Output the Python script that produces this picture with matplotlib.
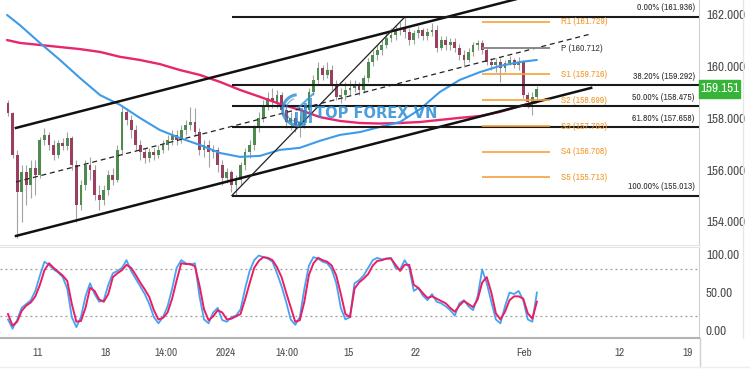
import matplotlib
matplotlib.use('Agg')
import matplotlib.pyplot as plt
import matplotlib.transforms as mtrans
from matplotlib import font_manager as fm
from matplotlib.patches import Rectangle, Arc
from matplotlib.lines import Line2D
import numpy as np

# pick a condensed face if one is installed
COND = None
for f in fm.fontManager.ttflist:
    if ('Narrow' in f.name or 'Condensed' in f.name) and f.weight in (400, 'normal', 'regular'):
        COND = f.name
        break
if COND is None:
    for f in fm.fontManager.ttflist:
        if f.name == 'DejaVu Sans' and str(f.stretch) in ('condensed', '500', 'semi-condensed') and f.style == 'normal':
            COND = 'DejaVu Sans'
            break
STRETCH = 'condensed'
BASE = COND if COND else 'Liberation Sans'
plt.rcParams['font.family'] = [BASE, 'DejaVu Sans']
plt.rcParams['font.stretch'] = STRETCH
SC = 1.0 if COND else 0.86  # shrink text if no condensed face available

# ---------------- data ----------------
opens = [158.60, 158.21, 156.58, 155.15, 155.93, 155.42, 156.08, 155.81, 157.16, 157.36,
         156.97, 156.58, 157.05, 156.93, 157.24, 156.20, 154.65, 155.42, 156.20, 156.00,
         155.04, 154.84, 155.23, 155.81, 155.62, 156.78, 158.25, 157.94, 157.55, 156.97,
         156.70, 156.47, 156.70, 156.58, 156.78, 156.97, 157.16, 157.36, 157.16, 157.55,
         157.74, 157.86, 157.47, 156.78, 156.97, 156.70, 156.78, 156.20, 155.69, 155.93,
         155.42, 155.62, 156.20, 156.70, 156.97, 157.63, 158.02, 158.52, 158.79, 158.63,
         158.90, 158.33, 157.86, 158.02, 157.74, 157.86, 158.33, 159.02, 159.49, 159.95,
         159.68, 159.87, 159.29, 158.83, 158.90, 159.10, 159.18, 159.29, 159.10, 159.56,
         160.18, 160.45, 160.65, 160.84, 161.11, 161.23, 161.42, 161.50, 161.34, 161.03,
         161.30, 161.42, 161.19, 161.34, 161.42, 160.72, 161.03, 160.84, 160.96, 160.72,
         160.45, 160.26, 160.57, 160.84, 160.92, 160.65, 160.18, 160.07, 160.18, 159.95,
         160.14, 160.26, 160.07, 160.18, 158.90, 158.63, 158.83]
closes = [158.21, 156.58, 155.15, 155.93, 155.42, 156.08, 155.81, 157.16, 157.36, 156.97,
          156.58, 157.05, 156.93, 157.24, 156.20, 154.65, 155.42, 156.20, 156.00, 155.04,
          154.84, 155.23, 155.81, 155.62, 156.78, 158.25, 157.94, 157.55, 156.97, 156.70,
          156.47, 156.70, 156.58, 156.78, 156.97, 157.16, 157.36, 157.16, 157.55, 157.74,
          157.86, 157.47, 156.78, 156.97, 156.70, 156.78, 156.20, 155.69, 155.93, 155.42,
          155.62, 156.20, 156.70, 156.97, 157.63, 158.02, 158.52, 158.79, 158.63, 158.90,
          158.33, 157.86, 158.02, 157.74, 157.86, 158.33, 159.02, 159.49, 159.95, 159.68,
          159.87, 159.29, 158.83, 158.90, 159.10, 159.18, 159.29, 159.10, 159.56, 160.18,
          160.45, 160.65, 160.84, 161.11, 161.23, 161.42, 161.50, 161.34, 161.03, 161.30,
          161.42, 161.19, 161.34, 161.42, 160.72, 161.03, 160.84, 160.96, 160.72, 160.45,
          160.26, 160.57, 160.84, 160.92, 160.65, 160.18, 160.07, 160.18, 159.95, 160.14,
          160.26, 160.07, 160.18, 158.90, 158.63, 158.83, 159.151]
highs = [158.71, 158.25, 156.78, 156.20, 156.20, 156.39, 156.39, 157.28, 157.63, 157.47,
         157.16, 157.16, 157.24, 157.47, 157.32, 156.39, 155.62, 156.39, 156.51, 156.20,
         155.42, 155.42, 156.00, 156.08, 156.97, 158.52, 158.40, 158.13, 157.74, 157.16,
         156.85, 156.85, 156.85, 156.97, 157.16, 157.36, 157.55, 157.55, 157.74, 157.94,
         158.44, 158.40, 157.63, 157.16, 157.16, 156.97, 156.89, 156.39, 156.08, 156.00,
         155.81, 156.31, 156.85, 157.16, 157.74, 158.25, 158.71, 159.02, 159.18, 159.10,
         159.02, 158.52, 158.25, 158.25, 158.13, 158.52, 159.18, 159.68, 160.18, 160.07,
         160.18, 160.07, 159.49, 159.18, 159.41, 159.49, 159.49, 159.41, 159.68, 160.34,
         160.65, 160.84, 161.03, 161.30, 161.50, 161.61, 161.73, 161.936, 161.50, 161.42,
         161.57, 161.50, 161.50, 161.69, 161.61, 161.19, 161.19, 161.11, 161.11, 160.88,
         160.65, 160.72, 160.96, 161.03, 161.03, 160.76, 160.34, 160.34, 160.34, 160.26,
         160.41, 160.34, 160.38, 160.26, 159.02, 159.02, 159.25]
lows = [158.09, 156.47, 153.37, 153.99, 154.65, 154.92, 155.04, 155.69, 156.97, 156.78,
        156.39, 156.47, 156.78, 156.78, 156.00, 153.99, 154.46, 155.23, 155.62, 154.84,
        154.46, 154.65, 155.04, 155.42, 155.54, 156.58, 157.74, 157.24, 156.78, 156.39,
        156.27, 156.31, 156.39, 156.47, 156.66, 156.78, 156.97, 156.97, 157.05, 157.36,
        157.55, 157.32, 156.58, 156.51, 156.12, 156.47, 155.93, 155.42, 155.50, 155.15,
        155.013, 155.42, 156.00, 156.47, 156.78, 157.47, 157.86, 158.33, 158.40, 158.40,
        158.13, 157.63, 157.55, 157.47, 157.28, 157.63, 158.13, 158.90, 159.29, 159.49,
        159.56, 159.10, 158.71, 158.60, 158.71, 158.90, 159.02, 158.90, 158.98, 159.41,
        160.03, 160.26, 160.45, 160.72, 160.96, 161.03, 161.23, 161.11, 160.84, 160.88,
        161.11, 161.03, 161.03, 161.19, 160.57, 160.65, 160.65, 160.65, 160.57, 160.26,
        159.99, 160.18, 160.41, 160.65, 160.49, 160.07, 159.87, 159.79, 159.41, 159.79,
        160.07, 159.95, 159.87, 158.79, 158.40, 158.13, 158.71]

# moving averages (sampled along the bar axis)
ma_x = [-0.2, 2.6, 7.0, 11.4, 15.8, 20.2, 24.6, 28.9, 33.3, 37.7, 42.1, 46.5, 50.9, 55.3,
        59.6, 64.0, 68.4, 72.8, 77.2, 81.6, 86.0, 90.4, 94.7, 99.1, 103.5, 107.9, 112.3, 116.0]
ma_fast = [162.00, 161.61, 160.92, 160.26, 159.56, 158.90, 158.52, 158.02, 157.55, 157.24,
           156.97, 156.66, 156.51, 156.55, 156.78, 156.86, 157.13, 157.36, 157.47, 157.67,
           157.86, 158.36, 159.02, 159.49, 159.79, 160.03, 160.18, 160.26]
ma_slow = [161.03, 160.92, 160.84, 160.76, 160.68, 160.57, 160.38, 160.26, 160.10, 159.87,
           159.68, 159.41, 159.10, 158.83, 158.56, 158.33, 158.05, 157.90, 157.82, 157.80,
           157.82, 157.86, 157.94, 158.02, 158.09, 158.25, 158.48, 158.63]

# stochastic oscillator
stoch_k = [15, 3, 14, 30, 35, 40, 52, 72, 90, 86,
           80, 76, 70, 55, 18, 5, 18, 45, 62, 48,
           38, 40, 60, 75, 78, 82, 92, 78, 68, 58,
           48, 35, 18, 10, 18, 32, 55, 82, 92, 88,
           86, 88, 45, 15, 10, 24, 30, 14, 12, 18,
           20, 28, 55, 78, 92, 98, 96, 94, 90, 75,
           58, 38, 15, 8, 18, 55, 85, 96, 94, 90,
           88, 80, 62, 30, 15, 18, 62, 66, 72, 82,
           92, 95, 93, 94, 95, 82, 80, 92, 82, 52,
           56, 46, 40, 48, 38, 36, 32, 27, 20, 36,
           40, 32, 27, 45, 80, 62, 38, 15, 10, 32,
           50, 48, 52, 40, 15, 12, 50]
stoch_d = [22, 7, 12, 26, 33, 37, 45, 60, 79, 88,
           82, 77, 72, 65, 35, 12, 13, 30, 56, 52,
           41, 38, 48, 70, 75, 79, 86, 82, 73, 63,
           54, 44, 27, 15, 17, 24, 42, 66, 88, 87,
           87, 84, 59, 28, 14, 19, 27, 24, 15, 16,
           19, 22, 41, 62, 82, 91, 96, 95, 92, 83,
           70, 50, 31, 12, 14, 38, 73, 88, 95, 92,
           90, 85, 72, 48, 22, 18, 55, 63, 68, 74,
           85, 91, 92, 94, 94, 86, 78, 86, 86, 60,
           56, 49, 43, 45, 42, 39, 36, 30, 25, 33,
           39, 35, 31, 41, 63, 70, 50, 23, 15, 25,
           40, 45, 45, 42, 23, 16, 38]

# channel (two anchor points each)
chan_x = [1.75, 127.9]
chan_upper = [157.63, 163.36]
chan_mid = [155.54, 161.27]
chan_lower = [153.45, 159.18]

# Fibonacci retracement
fib_anchor_x = [49.1, 87.1]
fib_pct = [0.0, 38.2, 50.0, 61.8, 100.0]
fib_lvl = [161.936, 159.292, 158.475, 157.658, 155.013]

# pivot points
piv_names = ['R1', 'P', 'S1', 'S2', 'S3', 'S4', 'S5']
piv_vals = [161.729, 160.712, 159.716, 158.699, 157.703, 156.708, 155.713]
piv_span = [103.9, 118.9]
piv_label_x = 121.3

price_ticks = [154, 156, 158, 160, 162]
osc_ticks = [0, 50, 100]
time_pos = [6.4, 21.3, 34.6, 47.8, 61.2, 74.6, 89.3, 113.2, 134.2, 149.1]
time_labels = ['11', '18', '14:00', '2024', '14:00', '15', '22', 'Feb', '12', '19']

# ---------------- figure ----------------
W, H = 750, 375
fig = plt.figure(figsize=(7.5, 3.75), dpi=100)
fig.patch.set_facecolor('white')
ax = fig.add_axes([0, 1 - 245 / H, 699 / W, 245 / H])
osc = fig.add_axes([0, 1 - 338 / H, 699 / W, 91 / H], sharex=ax)

XL = (-1.75, 151.55)
ax.set_xlim(*XL)
ax.set_ylim(153.10, 162.58)

UP = '#4d8b4f'
DN = '#9a3f5f'
WICK = '#a3a3a3'

o = np.array(opens); c = np.array(closes); h = np.array(highs); l = np.array(lows)
x = np.arange(len(c))
up = c >= o
ax.vlines(x, l, h, color=WICK, lw=0.8, zorder=2)
blo = np.minimum(o, c)
bh = np.maximum(np.abs(c - o), 0.03)
ax.bar(x[up], bh[up], bottom=blo[up], width=0.62, color=UP, linewidth=0, zorder=3)
ax.bar(x[~up], bh[~up], bottom=blo[~up], width=0.62, color=DN, linewidth=0, zorder=3)

ax.plot(ma_x, ma_slow, color='#e8266d', lw=1.7, zorder=4, solid_capstyle='round')
ax.plot(ma_x, ma_fast, color='#3d9be9', lw=1.5, zorder=4, solid_capstyle='round')

# channel
ax.plot(chan_x, chan_upper, color='#111111', lw=1.8, zorder=5)
ax.plot(chan_x, chan_lower, color='#111111', lw=1.8, zorder=5)
ax.plot(chan_x, chan_mid, color='#222222', lw=0.9, ls=(0, (4, 3)), zorder=5)

# fib
ax.plot(fib_anchor_x, [fib_lvl[-1], fib_lvl[0]], color='#222222', lw=0.9, zorder=5)
ax.hlines(fib_lvl, fib_anchor_x[0], XL[1], color='#1a1a1a', lw=1.5, zorder=5)
for p, v in zip(fib_pct, fib_lvl):
    ax.text(150.6, v + 0.34, f'{p:.2f}% ({v:.3f})', ha='right', va='center',
            fontsize=6.8 * SC, color='#333333', zorder=6)

# pivots
for nm, v in zip(piv_names, piv_vals):
    col = '#8a8a8a' if nm == 'P' else '#f6a23c'
    tcol = '#444444' if nm == 'P' else '#f29a2e'
    ax.hlines(v, piv_span[0], piv_span[1], color=col, lw=1.4 if nm == 'P' else 1.2, zorder=5)
    ax.text(piv_label_x, v, f'{nm} ({v:.3f})', ha='left', va='center',
            fontsize=7 * SC, color=tcol, zorder=6)

# watermark
ax.text(376 / 699, 1 - 113 / 245, 'TOP FOREX VN', transform=ax.transAxes,
        ha='center', va='center', fontsize=10.5, fontweight='bold', fontstretch='normal',
        family='DejaVu Sans', color='#2c8ed6', alpha=0.85, zorder=7)
logo = fig.add_axes([281 / W, 1 - 127 / H, 34 / W, 34 / H])
logo.set_xlim(0, 1); logo.set_ylim(0, 1); logo.axis('off')
logo.add_patch(Arc((0.5, 0.5), 0.9, 0.9, theta1=95, theta2=300, lw=2.2, color='#2c8ed6', alpha=0.8))
logo.add_patch(Arc((0.5, 0.5), 0.7, 0.7, theta1=110, theta2=280, lw=1.0, color='#2c8ed6', alpha=0.6))
for bx, bt in zip([0.42, 0.55, 0.68, 0.81], [0.45, 0.55, 0.7, 0.85]):
    logo.add_patch(Rectangle((bx, 0.12), 0.09, bt - 0.12, color='#2c8ed6', alpha=0.75, lw=0))
logo.plot([0.5, 0.95], [0.55, 0.98], color='#2c8ed6', lw=1.5, alpha=0.75)

# axes styling
ax.yaxis.tick_right()
ax.set_yticks(price_ticks)
ax.set_yticklabels([f'{t:.3f}' for t in price_ticks])
ax.tick_params(axis='y', length=0, pad=5, labelsize=9.5 * SC, labelcolor='#4d4d4d')
ax.tick_params(axis='x', length=0, labelbottom=False)
for s in ['left', 'top']:
    ax.spines[s].set_visible(False)
ax.spines['right'].set_color('#d0d0d0')
ax.spines['bottom'].set_color('#e4e4e4')

# price box
tr = mtrans.blended_transform_factory(ax.transAxes, ax.transData)
last = closes[-1]
ax.add_patch(Rectangle((1.0, last - 0.35), 41 / 699, 0.70, transform=tr,
                       color='#36b437', clip_on=False, zorder=10))
ax.text(1.0 + 20.5 / 699, last, f'{last:.3f}', transform=tr, ha='center', va='center',
        color='white', fontsize=9.5 * SC, clip_on=False, zorder=11)

# oscillator
osc.set_ylim(-9.1, 109.1)
ox = np.arange(len(stoch_k))
osc.axhline(80, color='#9a9a9a', lw=0.9, ls=(0, (1.5, 2.5)))
osc.axhline(20, color='#9a9a9a', lw=0.9, ls=(0, (1.5, 2.5)))
osc.plot(ox, stoch_k, color='#48a2f2', lw=1.3, zorder=3)
osc.plot(np.arange(len(stoch_d)), stoch_d, color='#e91e63', lw=1.4, zorder=4)
osc.yaxis.tick_right()
osc.set_yticks(osc_ticks)
osc.set_yticklabels([f'{t:.2f}' for t in osc_ticks])
osc.tick_params(axis='y', length=0, pad=5, labelsize=9.5 * SC, labelcolor='#4d4d4d')
osc.set_xticks(time_pos)
osc.set_xticklabels(time_labels)
osc.tick_params(axis='x', length=0, pad=7, labelsize=8 * SC, labelcolor='#4d4d4d')
osc.spines['left'].set_visible(False)
osc.spines['top'].set_color('#e4e4e4')
osc.spines['right'].set_color('#d0d0d0')
osc.spines['bottom'].set_color('#b3b3b3')
osc.spines['bottom'].set_linewidth(1.5)
ax.set_xlim(*XL)

fig.add_artist(Line2D([699.5 / W] * 2, [1 - 367 / H, 1 - 338 / H], color='#d0d0d0', lw=1))
fig.add_artist(Line2D([0, 1], [1 - 367 / H] * 2, color='#eeeeee', lw=1))
fig.add_artist(Line2D([743 / W] * 2, [1 - 338 / H, 1], color='#e6e6e6', lw=1))

fig.savefig('out.png', dpi=100, facecolor='white')
